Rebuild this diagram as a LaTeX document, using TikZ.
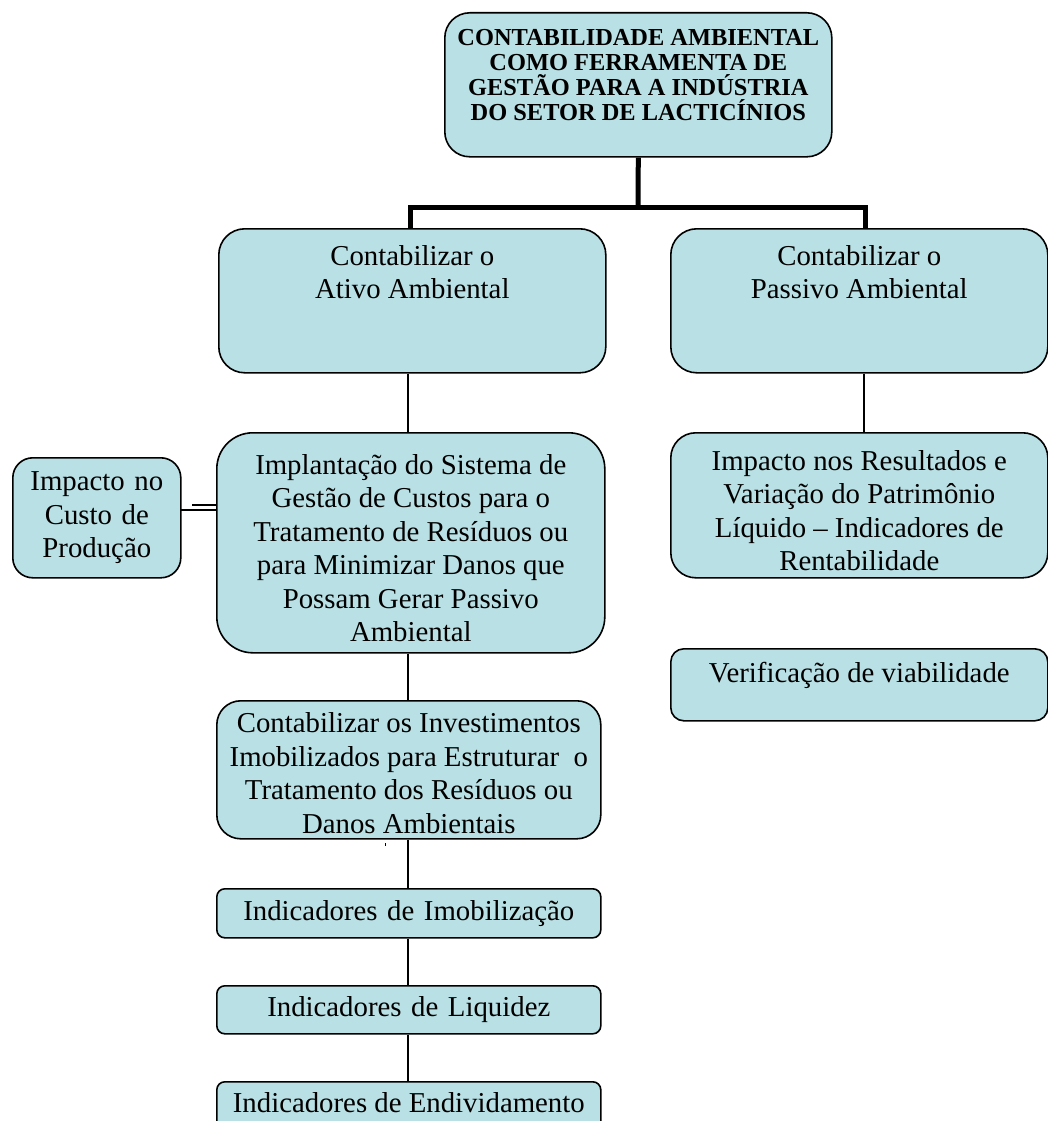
\documentclass[tikz,border=0pt]{standalone}
\usepackage{fontspec}
\setmainfont{Liberation Serif}
\definecolor{boxfill}{RGB}{185,224,228}
\tikzset{
  box/.style={draw=black, line width=1.6pt, fill=boxfill, inner sep=0pt, anchor=north west,
              font=\fontsize{28.8}{33.5}\selectfont},
  cbox/.style={box, align=center},
  thin/.style={draw=black, line width=1.8pt},
  busline/.style={draw=black, line width=5pt, line join=miter}
}
\begin{document}
\begin{tikzpicture}[x=1pt,y=-1pt]
\useasboundingbox (0,0) rectangle (1048,1121);
\clip (0,0) rectangle (1048,1121);
% title
\node[box, rounded corners=25pt, font=\bfseries\fontsize{24.4}{25}\selectfont] (t) at (444,12)
  {\parbox[t][144pt][t]{387pt}{\centering\vspace*{17pt}CONTABILIDADE AMBIENTAL\\COMO FERRAMENTA DE\\GESTÃO PARA A INDÚSTRIA\\DO SETOR DE LACTICÍNIOS}};
% level 1
\node[box, rounded corners=26pt] (a) at (218,228)
  {\parbox[t][144pt][t]{387pt}{\centering\vspace*{16.5pt}Contabilizar o\\Ativo Ambiental}};
\node[box, rounded corners=26pt] (b) at (670,228)
  {\parbox[t][144pt][t]{377pt}{\centering\vspace*{16.5pt}Contabilizar o\\Passivo Ambiental}};
% left column
\node[box, rounded corners=36pt] (c) at (216,432)
  {\parbox[t][220pt][c]{388pt}{\centering\vspace*{11pt}Implantação do Sistema de\\Gestão de Custos para o\\Tratamento de Resíduos ou\\para Minimizar Danos que\\Possam Gerar Passivo\\Ambiental}};
\node[cbox, rounded corners=20pt, text width=168pt, minimum height=120pt] (l) at (12,457)
  {Impacto no\\Custo de\\Produção};
\node[box, rounded corners=24pt] (d) at (216,700)
  {\parbox[t][138pt][c]{384pt}{\centering\vspace*{7pt}Contabilizar os Investimentos\\Imobilizados para Estruturar\ \ o\\Tratamento dos Resíduos ou\\Danos Ambientais}};
\node[cbox, rounded corners=8pt, text width=384pt, minimum height=49pt] (e) at (216,888)
  {Indicadores de Imobilização};
\node[cbox, rounded corners=8pt, text width=384pt, minimum height=48pt] (f) at (216,985)
  {Indicadores de Liquidez};
\node[box, rounded corners=8pt] (g) at (216,1081)
  {\parbox[t][60pt][t]{384pt}{\centering\vspace*{11pt}Indicadores de Endividamento}};
% right column
\node[box, rounded corners=25pt] (h) at (670,432)
  {\parbox[t][145pt][c]{377pt}{\centering\vspace*{11pt}Impacto nos Resultados e\\Variação do Patrimônio\\Líquido – Indicadores de\\Rentabilidade}};
\node[box, rounded corners=13pt] (i) at (670,648)
  {\parbox[t][72pt][t]{377pt}{\centering\vspace*{13.5pt}Verificação de viabilidade}};
% connectors
\coordinate (bus) at (638,207);
\coordinate (lx) at (410,0);
\coordinate (rx) at (865,0);
\coordinate (cx) at (408,0);
\coordinate (hx) at (864,0);
\draw[busline] (t.south) -- (bus);
\draw[busline] (a.north -| lx) |- (bus) -| (b.north -| rx);
\draw[thin] (a.south -| cx) -- (c.north -| cx);
\draw[thin] (c.south -| cx) -- (d.north -| cx);
\draw[thin] (d.south -| cx) -- (e.north -| cx);
\draw[thin] (e.south -| cx) -- (f.north -| cx);
\draw[thin] (f.south -| cx) -- (g.north -| cx);
\draw[thin] (b.south -| hx) -- (h.north -| hx);
\coordinate (dl1) at (180,510);
\coordinate (dl2) at (192,505);
\draw[draw=black, line width=1.5pt] (dl1) -- (c.west |- dl1);
\draw[draw=black, line width=1.5pt] (dl2) -- (c.west |- dl2);
\draw[draw=black, line width=0.8pt] (385,843) -- (385,846);
\end{tikzpicture}
\end{document}
